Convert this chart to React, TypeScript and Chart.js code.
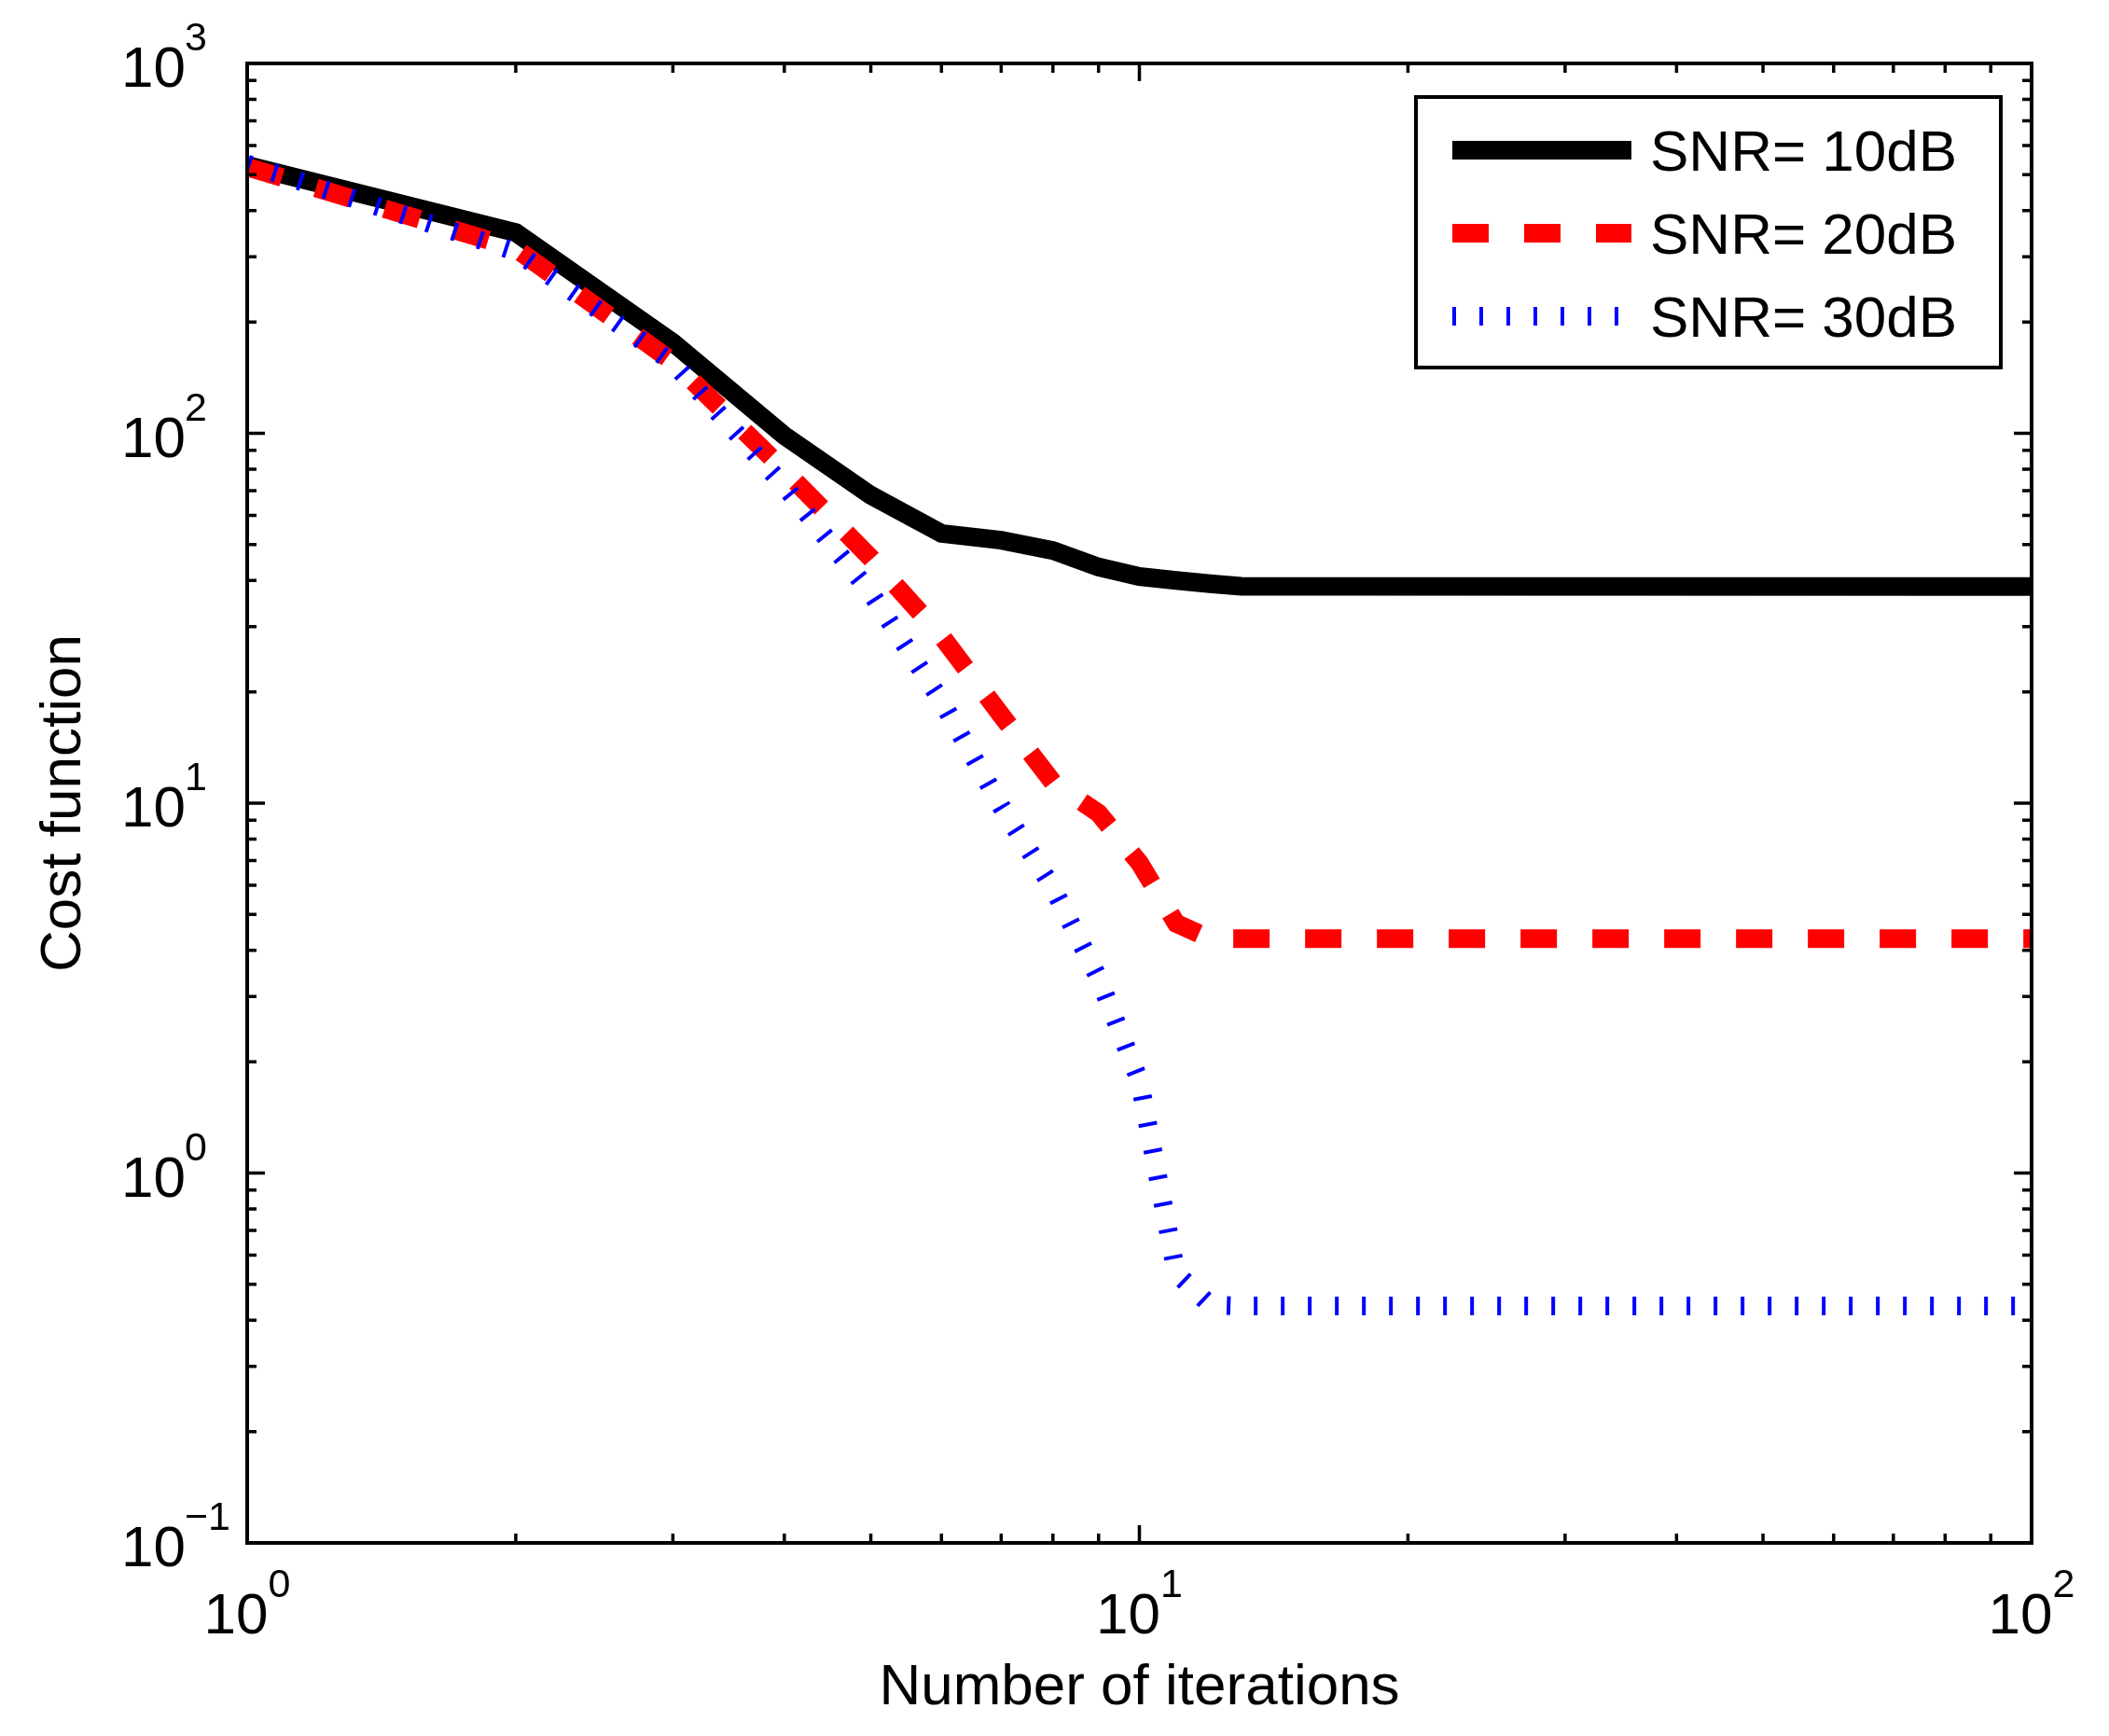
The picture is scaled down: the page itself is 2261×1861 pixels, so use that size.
import React, { useRef, useEffect } from 'react';
import { Chart, registerables } from 'chart.js';
Chart.register(...registerables);

// values (log-log plot)
const iterations = [1, 2, 3, 4, 5, 6, 7, 8, 9, 10, 11, 12, 13, 100];
const snr10 = [530, 349, 176, 98.6, 68, 53.6, 51.4, 48.2, 43.5, 41, 40, 39.2, 38.6, 38.5];
const snr20 = [525, 316, 156, 79.5, 46, 28.3, 17.3, 11.4, 9.4, 6.9, 4.73, 4.3, 4.3, 4.3];
const snr30 = [535, 310, 155, 72, 37, 18.9, 9.8, 5.9, 3.37, 1.78, 0.536, 0.44, 0.437, 0.437];
const seriesLabels = ['SNR= 10dB', 'SNR= 20dB', 'SNR= 30dB'];

const xExponents = [0, 1, 2];
const yExponents = [-1, 0, 1, 2, 3];
const xTitle = 'Number of iterations';
const yTitle = 'Cost function';

const FONT = '"Liberation Sans", Arial, Helvetica, sans-serif';
const W = 2261;
const H = 1861;

// matlab style box, inward ticks, 10^n labels, axis titles and legend
const matlabAxes = {
  id: 'matlabAxes',
  afterDraw(chart: any) {
    const ctx = chart.ctx;
    const { left, right, top, bottom } = chart.chartArea;
    const xs = chart.scales.x;
    const ys = chart.scales.y;
    ctx.save();
    ctx.setLineDash([]);
    ctx.strokeStyle = '#000';
    ctx.fillStyle = '#000';
    ctx.lineCap = 'butt';

    // ticks
    ctx.lineWidth = 3.5;
    ctx.beginPath();
    for (let e = 0; e <= 2; e++) {
      for (let m = 1; m <= 9; m++) {
        const v = m * Math.pow(10, e);
        if (v < xs.min || v > xs.max) continue;
        const len = m === 1 ? 19 : 10;
        const px = xs.getPixelForValue(v);
        ctx.moveTo(px, bottom); ctx.lineTo(px, bottom - len);
        ctx.moveTo(px, top); ctx.lineTo(px, top + len);
      }
    }
    for (let e = -1; e <= 3; e++) {
      for (let m = 1; m <= 9; m++) {
        const v = m * Math.pow(10, e);
        if (v < ys.min * 0.999 || v > ys.max * 1.001) continue;
        const len = m === 1 ? 19 : 10;
        const py = ys.getPixelForValue(v);
        ctx.moveTo(left, py); ctx.lineTo(left + len, py);
        ctx.moveTo(right, py); ctx.lineTo(right - len, py);
      }
    }
    ctx.stroke();

    // frame
    ctx.lineWidth = 4;
    ctx.strokeRect(left, top, right - left, bottom - top);

    // tick labels
    const base = '62px ' + FONT;
    const sup = '43px ' + FONT;
    ctx.textBaseline = 'alphabetic';
    for (const e of xExponents) {
      const px = xs.getPixelForValue(Math.pow(10, e));
      const s = String(e).replace('-', '\u2212');
      ctx.font = base;
      const w1 = ctx.measureText('10').width;
      ctx.font = sup;
      const w2 = ctx.measureText(s).width;
      const x0 = px - (w1 + w2) / 2;
      ctx.textAlign = 'left';
      ctx.font = base;
      ctx.fillText('10', x0, bottom + 97);
      ctx.font = sup;
      ctx.fillText(s, x0 + w1, bottom + 58);
    }
    for (const e of yExponents) {
      const py = ys.getPixelForValue(Math.pow(10, e));
      const s = String(e).replace('-', '\u2212');
      ctx.font = base;
      ctx.textAlign = 'right';
      ctx.fillText('10', left - 66, py + 25);
      ctx.font = sup;
      ctx.textAlign = 'left';
      ctx.fillText(s, left - 67, py - 14);
    }

    // axis titles
    ctx.font = base;
    ctx.textAlign = 'center';
    ctx.fillText(xTitle, (left + right) / 2, bottom + 173);
    ctx.save();
    ctx.translate(86, (top + bottom) / 2);
    ctx.rotate(-Math.PI / 2);
    ctx.fillText(yTitle, 0, 0);
    ctx.restore();

    // legend
    const lw = 627;
    const lh = 290;
    const lx = right - 33 - lw;
    const ly = top + 36;
    ctx.fillStyle = '#fff';
    ctx.fillRect(lx, ly, lw, lh);
    ctx.lineWidth = 4;
    ctx.strokeStyle = '#000';
    ctx.strokeRect(lx, ly, lw, lh);
    chart.data.datasets.forEach((ds: any, i: number) => {
      const ry = ly + 57 + i * 89;
      ctx.save();
      ctx.strokeStyle = ds.borderColor;
      ctx.lineWidth = ds.borderWidth;
      ctx.lineCap = 'butt';
      ctx.setLineDash(ds.borderDash || []);
      ctx.beginPath();
      ctx.moveTo(lx + 39, ry);
      ctx.lineTo(lx + 231, ry);
      ctx.stroke();
      ctx.restore();
      ctx.fillStyle = '#000';
      ctx.font = base;
      ctx.textAlign = 'left';
      ctx.fillText(ds.label, lx + 251, ry + 22);
    });
    ctx.restore();
  },
};

const CostChart: React.FC = () => {
  const chartRef = useRef<HTMLCanvasElement | null>(null);
  const chartInstance = useRef<Chart | null>(null);

  useEffect(() => {
    if (chartInstance.current) {
      chartInstance.current.destroy();
    }
    const myChartRef = chartRef.current?.getContext('2d');
    if (myChartRef) {
      const toPoints = (ys: number[]) => iterations.map((x, i) => ({ x, y: ys[i] }));
      chartInstance.current = new Chart(myChartRef, {
        type: 'line',
        data: {
          datasets: [
            {
              label: seriesLabels[0],
              data: toPoints(snr10),
              borderColor: '#000000',
              borderWidth: 20,
              borderDash: [],
              order: 3,
            },
            {
              label: seriesLabels[1],
              data: toPoints(snr20),
              borderColor: '#ff0000',
              borderWidth: 20,
              borderDash: [39, 38],
              order: 2,
            },
            {
              label: seriesLabels[2],
              data: toPoints(snr30),
              borderColor: '#0000ff',
              borderWidth: 20,
              borderDash: [4, 25],
              order: 1,
            },
          ],
        },
        options: {
          animation: false,
          responsive: false,
          devicePixelRatio: 1,
          parsing: false,
          elements: {
            line: { tension: 0, borderCapStyle: 'butt', borderJoinStyle: 'miter', fill: false },
            point: { radius: 0, hoverRadius: 0 },
          },
          layout: { padding: { left: 265, right: W - 2178, top: 68, bottom: H - 1654 } },
          plugins: { legend: { display: false }, tooltip: { enabled: false } },
          events: [],
          scales: {
            x: { type: 'logarithmic', min: 1, max: 100, display: false },
            y: { type: 'logarithmic', min: 0.1, max: 1000, display: false },
          },
        },
        plugins: [matlabAxes],
      } as any);
    }
    return () => {
      if (chartInstance.current) {
        chartInstance.current.destroy();
        chartInstance.current = null;
      }
    };
  }, []);

  return (
    <div style={{ position: 'fixed', left: 0, top: 0, width: W, height: H, background: '#fff' }}>
      <canvas ref={chartRef} width={W} height={H} style={{ display: 'block', width: W, height: H }} />
    </div>
  );
};

export default function App() {
  return <CostChart />;
}
